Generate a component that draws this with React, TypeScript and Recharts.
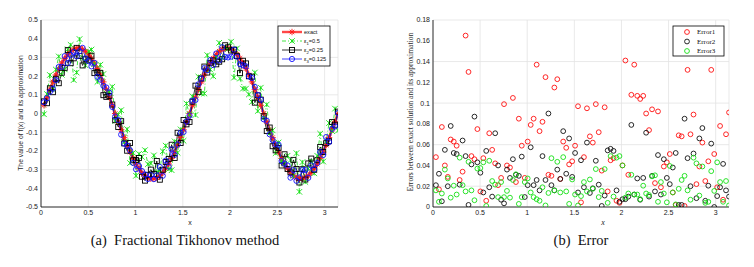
import React from "react";
import {
  LineChart,
  Line,
  ScatterChart,
  Scatter,
  XAxis,
  YAxis,
  CartesianGrid,
} from "recharts";

// shared grid of x points (both panels)
const xs = [
  0.031, 0.063, 0.094, 0.126, 0.157, 0.188, 0.22, 0.251, 0.283, 0.314,
  0.346, 0.377, 0.408, 0.44, 0.471, 0.503, 0.534, 0.565, 0.597, 0.628,
  0.66, 0.691, 0.723, 0.754, 0.785, 0.817, 0.848, 0.88, 0.911, 0.942,
  0.974, 1.005, 1.037, 1.068, 1.1, 1.131, 1.162, 1.194, 1.225, 1.257,
  1.288, 1.319, 1.351, 1.382, 1.414, 1.445, 1.477, 1.508, 1.539, 1.571,
  1.602, 1.634, 1.665, 1.696, 1.728, 1.759, 1.791, 1.822, 1.854, 1.885,
  1.916, 1.948, 1.979, 2.011, 2.042, 2.073, 2.105, 2.136, 2.168, 2.199,
  2.231, 2.262, 2.293, 2.325, 2.356, 2.388, 2.419, 2.45, 2.482, 2.513,
  2.545, 2.576, 2.608, 2.639, 2.67, 2.702, 2.733, 2.765, 2.796, 2.827,
  2.859, 2.89, 2.922, 2.953, 2.985, 3.016, 3.047, 3.079, 3.11, 3.142,
];

// (a) exact solution and the three approximations
const exact = [
  0.044, 0.087, 0.129, 0.169, 0.206, 0.24, 0.27, 0.295, 0.317, 0.333,
  0.344, 0.349, 0.349, 0.344, 0.333, 0.317, 0.295, 0.27, 0.24, 0.206,
  0.169, 0.129, 0.087, 0.044, 0.0, -0.044, -0.087, -0.129, -0.169, -0.206,
  -0.24, -0.27, -0.295, -0.317, -0.333, -0.344, -0.349, -0.349, -0.344, -0.333,
  -0.317, -0.295, -0.27, -0.24, -0.206, -0.169, -0.129, -0.087, -0.044, 0.0,
  0.044, 0.087, 0.129, 0.169, 0.206, 0.24, 0.27, 0.295, 0.317, 0.333,
  0.344, 0.349, 0.349, 0.344, 0.333, 0.317, 0.295, 0.27, 0.24, 0.206,
  0.169, 0.129, 0.087, 0.044, 0.0, -0.044, -0.087, -0.129, -0.169, -0.206,
  -0.24, -0.27, -0.295, -0.317, -0.333, -0.344, -0.349, -0.349, -0.344, -0.333,
  -0.317, -0.295, -0.27, -0.24, -0.206, -0.169, -0.129, -0.087, -0.044, 0.0,
];

const approx1 = [
  -0.004, 0.104, 0.206, 0.129, 0.235, 0.305, 0.207, 0.236, 0.343, 0.367,
  0.179, 0.219, 0.398, 0.298, 0.258, 0.332, 0.342, 0.264, 0.169, 0.261,
  0.211, 0.108, 0.115, 0.143, -0.04, -0.006, 0.018, -0.153, -0.084, -0.265,
  -0.211, -0.333, -0.216, -0.232, -0.196, -0.271, -0.267, -0.224, -0.313, -0.303,
  -0.202, -0.172, -0.297, -0.303, -0.149, -0.21, -0.085, -0.146, 0.053, -0.005,
  0.092, -0.008, 0.197, 0.107, 0.107, 0.312, 0.235, 0.199, 0.302, 0.378,
  0.297, 0.355, 0.345, 0.384, 0.192, 0.348, 0.187, 0.133, 0.133, 0.102,
  0.062, 0.219, 0.013, 0.138, -0.023, 0.048, -0.106, -0.09, -0.212, -0.155,
  -0.254, -0.268, -0.226, -0.249, -0.334, -0.212, -0.419, -0.26, -0.366, -0.294,
  -0.255, -0.32, -0.226, -0.108, -0.257, -0.15, -0.051, -0.094, 0.026, -0.091,
];

const approx2 = [
  0.065, 0.055, 0.135, 0.114, 0.186, 0.162, 0.218, 0.244, 0.339, 0.269,
  0.295, 0.351, 0.308, 0.257, 0.29, 0.284, 0.309, 0.216, 0.221, 0.216,
  0.098, 0.089, 0.094, 0.048, -0.036, -0.072, -0.041, -0.16, -0.199, -0.158,
  -0.25, -0.249, -0.238, -0.338, -0.359, -0.328, -0.3, -0.323, -0.254, -0.354,
  -0.301, -0.259, -0.243, -0.167, -0.238, -0.103, -0.158, -0.035, -0.058, -0.045,
  0.063, 0.149, 0.116, 0.187, 0.251, 0.219, 0.271, 0.284, 0.263, 0.277,
  0.29, 0.365, 0.354, 0.337, 0.341, 0.307, 0.216, 0.282, 0.268, 0.199,
  0.197, 0.058, 0.097, 0.074, -0.015, -0.094, -0.075, -0.175, -0.197, -0.184,
  -0.278, -0.218, -0.297, -0.315, -0.248, -0.297, -0.369, -0.298, -0.353, -0.267,
  -0.241, -0.301, -0.25, -0.179, -0.206, -0.159, -0.148, -0.046, -0.06, 0.01,
];

const approx3 = [
  0.06, 0.082, 0.116, 0.133, 0.179, 0.249, 0.25, 0.307, 0.27, 0.312,
  0.329, 0.306, 0.333, 0.351, 0.296, 0.28, 0.252, 0.271, 0.196, 0.181,
  0.148, 0.139, 0.111, 0.035, -0.016, -0.035, -0.113, -0.161, -0.172, -0.197,
  -0.264, -0.298, -0.281, -0.308, -0.326, -0.35, -0.33, -0.351, -0.331, -0.286,
  -0.333, -0.252, -0.284, -0.192, -0.221, -0.166, -0.103, -0.099, -0.043, -0.011,
  0.068, 0.072, 0.156, 0.187, 0.243, 0.231, 0.286, 0.259, 0.321, 0.284,
  0.354, 0.302, 0.3, 0.304, 0.342, 0.304, 0.264, 0.258, 0.252, 0.199,
  0.19, 0.142, 0.099, 0.074, -0.031, -0.039, -0.111, -0.142, -0.165, -0.167,
  -0.254, -0.268, -0.278, -0.343, -0.303, -0.36, -0.342, -0.302, -0.302, -0.344,
  -0.278, -0.299, -0.265, -0.206, -0.222, -0.126, -0.153, -0.082, -0.069, 0.002,
];

// (b) absolute errors
const error1 = [
  0.048, 0.017, 0.077, 0.04, 0.029, 0.065, 0.063, 0.059, 0.026, 0.034,
  0.165, 0.13, 0.049, 0.046, 0.075, 0.015, 0.047, 0.006, 0.071, 0.055,
  0.042, 0.021, 0.028, 0.099, 0.04, 0.038, 0.105, 0.024, 0.085, 0.059,
  0.028, 0.063, 0.079, 0.085, 0.137, 0.073, 0.082, 0.125, 0.031, 0.03,
  0.115, 0.123, 0.027, 0.063, 0.057, 0.041, 0.044, 0.059, 0.097, 0.0045,
  0.048, 0.095, 0.068, 0.062, 0.099, 0.072, 0.035, 0.096, 0.015, 0.045,
  0.047, 0.006, 0.004, 0.04, 0.141, 0.031, 0.108, 0.137, 0.107, 0.104,
  0.107, 0.09, 0.074, 0.094, 0.023, 0.092, 0.019, 0.039, 0.043, 0.051,
  0.014, 0.002, 0.069, 0.068, 0.001, 0.132, 0.07, 0.089, 0.022, 0.039,
  0.062, 0.025, 0.044, 0.132, 0.051, 0.019, 0.078, 0.007, 0.07, 0.091,
];

const error2 = [
  0.021, 0.032, 0.0055, 0.055, 0.02, 0.078, 0.052, 0.051, 0.0215, 0.064,
  0.049, 0.002, 0.041, 0.087, 0.043, 0.033, 0.014, 0.054, 0.019, 0.01,
  0.071, 0.04, 0.007, 0.0035, 0.036, 0.028, 0.046, 0.031, 0.03, 0.0485,
  0.0096, 0.021, 0.0575, 0.021, 0.026, 0.016, 0.049, 0.026, 0.09, 0.021,
  0.016, 0.036, 0.027, 0.073, 0.032, 0.066, 0.029, 0.052, 0.014, 0.045,
  0.019, 0.062, 0.0135, 0.018, 0.0445, 0.0215, 0.001, 0.011, 0.0545, 0.056,
  0.054, 0.016, 0.005, 0.0075, 0.0075, 0.01, 0.079, 0.012, 0.0275, 0.007,
  0.028, 0.0715, 0.01, 0.03, 0.015, 0.05, 0.012, 0.046, 0.028, 0.022,
  0.038, 0.052, 0.002, 0.002, 0.085, 0.047, 0.02, 0.0515, 0.0085, 0.066,
  0.076, 0.006, 0.0205, 0.061, 0.0, 0.0105, 0.019, 0.0415, 0.016, 0.01,
];

const error3 = [
  0.016, 0.005, 0.013, 0.036, 0.0275, 0.009, 0.0205, 0.012, 0.0475, 0.021,
  0.015, 0.0435, 0.016, 0.0065, 0.037, 0.0375, 0.043, 0.001, 0.0445, 0.025,
  0.0215, 0.0095, 0.024, 0.0095, 0.0155, 0.009, 0.026, 0.0315, 0.003, 0.0095,
  0.024, 0.0275, 0.014, 0.0095, 0.0075, 0.006, 0.019, 0.0015, 0.0135, 0.047,
  0.016, 0.0435, 0.014, 0.048, 0.015, 0.003, 0.0265, 0.012, 0.0015, 0.0105,
  0.024, 0.015, 0.0265, 0.0175, 0.0365, 0.0095, 0.0155, 0.0365, 0.004, 0.049,
  0.01, 0.0475, 0.049, 0.04, 0.009, 0.013, 0.031, 0.012, 0.012, 0.0075,
  0.0205, 0.013, 0.0115, 0.0295, 0.0305, 0.005, 0.024, 0.013, 0.0045, 0.0395,
  0.014, 0.0025, 0.0175, 0.026, 0.03, 0.016, 0.007, 0.0475, 0.042, 0.011,
  0.039, 0.004, 0.005, 0.0345, 0.0155, 0.043, 0.024, 0.005, 0.025, 0.0015,
];

const xTicks = [0, 0.5, 1, 1.5, 2, 2.5, 3];
const yTicksA = [-0.5, -0.4, -0.3, -0.2, -0.1, 0, 0.1, 0.2, 0.3, 0.4, 0.5];
const yTicksB = [0, 0.02, 0.04, 0.06, 0.08, 0.1, 0.12, 0.14, 0.16, 0.18];

const RED = "#ff1a1a";
const GREEN = "#14e014";
const BLUE = "#1010ff";

const rows = xs.map((x, i) => ({
  x,
  exact: exact[i],
  a1: approx1[i],
  a2: approx2[i],
  a3: approx3[i],
}));
const toPts = (arr: number[]) => xs.map((x, i) => ({ x, y: arr[i] }));

const tickSans = { fontSize: 7, fill: "#1a1a1a", fontFamily: "Liberation Sans" };

function Star({ cx, cy, color, r = 3.2 }: any) {
  const d = r * 0.7;
  return (
    <g stroke={color} strokeWidth={0.9}>
      <line x1={cx - r} y1={cy} x2={cx + r} y2={cy} />
      <line x1={cx} y1={cy - r} x2={cx} y2={cy + r} />
      <line x1={cx - d} y1={cy - d} x2={cx + d} y2={cy + d} />
      <line x1={cx - d} y1={cy + d} x2={cx + d} y2={cy - d} />
    </g>
  );
}

function Cross({ cx, cy, color, r = 2.8 }: any) {
  return (
    <g stroke={color} strokeWidth={0.9}>
      <line x1={cx - r} y1={cy - r} x2={cx + r} y2={cy + r} />
      <line x1={cx - r} y1={cy + r} x2={cx + r} y2={cy - r} />
      <line x1={cx} y1={cy - r * 0.7} x2={cx} y2={cy + r * 0.7} />
    </g>
  );
}

function Square({ cx, cy, color, r = 2.5 }: any) {
  return (
    <rect x={cx - r} y={cy - r} width={r * 2} height={r * 2} fill="none" stroke={color} strokeWidth={0.9} />
  );
}

function Ring({ cx, cy, color, r = 2.6 }: any) {
  return <circle cx={cx} cy={cy} r={r} fill="none" stroke={color} strokeWidth={0.9} />;
}

function Frame() {
  // top + right edges of the axes box
  return null;
}

function PanelA() {
  return (
    <LineChart
      width={345}
      height={230}
      data={rows}
      margin={{ top: 20, right: 7, left: 0, bottom: 3 }}
    >
      <CartesianGrid stroke="#e3e3e3" strokeWidth={0.8} />
      <XAxis
        dataKey="x"
        type="number"
        domain={[0, 3.1416]}
        ticks={xTicks}
        allowDataOverflow
        tick={tickSans}
        tickLine={false}
        tickSize={0}
        tickMargin={3}
        height={20}
        axisLine={{ stroke: "#000", strokeWidth: 0.8 }}
      />
      <XAxis
        xAxisId="top"
        orientation="top"
        type="number"
        domain={[0, 1]}
        tick={false}
        tickLine={false}
        height={0}
        axisLine={{ stroke: "#000", strokeWidth: 0.8 }}
      />
      <YAxis
        type="number"
        domain={[-0.5, 0.5]}
        ticks={yTicksA}
        allowDataOverflow
        tick={tickSans}
        tickLine={false}
        tickSize={0}
        tickMargin={3}
        width={41}
        axisLine={{ stroke: "#000", strokeWidth: 0.8 }}
      />
      <YAxis
        yAxisId="right"
        orientation="right"
        type="number"
        domain={[0, 1]}
        tick={false}
        tickLine={false}
        width={0}
        axisLine={{ stroke: "#000", strokeWidth: 0.8 }}
      />
      <Line
        dataKey="exact"
        stroke={RED}
        strokeWidth={2.6}
        strokeOpacity={0.8}
        isAnimationActive={false}
        dot={(p: any) => <Star key={`e${p.index}`} cx={p.cx} cy={p.cy} color={RED} />}
      />
      <Line
        dataKey="a1"
        stroke={GREEN}
        strokeWidth={0.8}
        strokeDasharray="4 2 1 2"
        isAnimationActive={false}
        dot={(p: any) => <Cross key={`g${p.index}`} cx={p.cx} cy={p.cy} color={GREEN} />}
      />
      <Line
        dataKey="a2"
        stroke="#000"
        strokeWidth={0.8}
        isAnimationActive={false}
        dot={(p: any) => <Square key={`k${p.index}`} cx={p.cx} cy={p.cy} color="#000" />}
      />
      <Line
        dataKey="a3"
        stroke={BLUE}
        strokeWidth={0.8}
        isAnimationActive={false}
        dot={(p: any) => <Ring key={`b${p.index}`} cx={p.cx} cy={p.cy} color={BLUE} />}
      />
    </LineChart>
  );
}

function PanelB() {
  const series = [
    { name: "Error1", data: toPts(error1), color: "#ff1010" },
    { name: "Error2", data: toPts(error2), color: "#111" },
    { name: "Error3", data: toPts(error3), color: GREEN },
  ];
  return (
    <ScatterChart width={360} height={230} margin={{ top: 20, right: 11, left: 0, bottom: 3 }}>
      <CartesianGrid stroke="#e3e3e3" strokeWidth={0.8} />
      <XAxis
        dataKey="x"
        type="number"
        domain={[0, 3.1416]}
        ticks={xTicks}
        allowDataOverflow
        tick={tickSans}
        tickLine={false}
        tickSize={0}
        tickMargin={3}
        height={20}
        axisLine={{ stroke: "#000", strokeWidth: 0.8 }}
      />
      <XAxis
        xAxisId="top"
        orientation="top"
        type="number"
        domain={[0, 1]}
        tick={false}
        tickLine={false}
        height={0}
        axisLine={{ stroke: "#000", strokeWidth: 0.8 }}
      />
      <YAxis
        dataKey="y"
        type="number"
        domain={[0, 0.18]}
        ticks={yTicksB}
        allowDataOverflow
        tick={tickSans}
        tickLine={false}
        tickSize={0}
        tickMargin={3}
        width={53}
        axisLine={{ stroke: "#000", strokeWidth: 0.8 }}
      />
      <YAxis
        yAxisId="right"
        orientation="right"
        type="number"
        domain={[0, 1]}
        tick={false}
        tickLine={false}
        width={0}
        axisLine={{ stroke: "#000", strokeWidth: 0.8 }}
      />
      {series.map((s) => (
        <Scatter
          key={s.name}
          name={s.name}
          data={s.data}
          isAnimationActive={false}
          shape={(p: any) => <Ring cx={p.cx} cy={p.cy} color={s.color} r={2.4} />}
        />
      ))}
    </ScatterChart>
  );
}

function Overlay() {
  const sans = "Liberation Sans";
  const serif = "Liberation Serif";
  const legA = [
    { y: 32, color: RED, label: "exact", kind: "star" },
    { y: 41, color: GREEN, label: "1", val: "=0.5", kind: "cross" },
    { y: 50, color: "#000", label: "2", val: "=0.25", kind: "square" },
    { y: 59, color: BLUE, label: "3", val: "=0.125", kind: "ring" },
  ];
  const legB = [
    { y: 32, color: "#ff1010", label: "Error1" },
    { y: 41.5, color: "#111", label: "Error2" },
    { y: 51, color: GREEN, label: "Error3" },
  ];
  return (
    <svg
      width={754}
      height={267}
      style={{ position: "absolute", left: 0, top: 0, pointerEvents: "none" }}
    >
      {/* axis labels */}
      <text x={190} y={225} fontSize={7} fontFamily={sans} textAnchor="middle" fill="#222">
        x
      </text>
      <text
        transform="translate(23,113) rotate(-90)"
        fontSize={6.8}
        fontFamily={sans}
        textAnchor="middle"
        fill="#2a2a2a"
      >
        The value of f(x) and its approximation
      </text>
      <text x={603} y={225} fontSize={8} fontFamily={serif} fontStyle="italic" textAnchor="middle" fill="#222">
        x
      </text>
      <text
        transform="translate(413,112) rotate(-90)"
        fontSize={7.6}
        fontFamily={serif}
        textAnchor="middle"
        fill="#2a2a2a"
      >
        Errors between exact solution and its approximation
      </text>

      {/* legend (a) */}
      <rect x={278} y={26} width={52} height={40} fill="#fff" stroke="#000" strokeWidth={0.8} />
      {legA.map((l) => (
        <g key={l.label}>
          <line
            x1={282}
            x2={302}
            y1={l.y}
            y2={l.y}
            stroke={l.color}
            strokeWidth={l.kind === "star" ? 2.4 : 0.8}
            strokeOpacity={l.kind === "star" ? 0.8 : 1}
            strokeDasharray={l.kind === "cross" ? "4 2 1 2" : undefined}
          />
          {l.kind === "star" && <Star cx={292} cy={l.y} color={l.color} />}
          {l.kind === "cross" && <Cross cx={292} cy={l.y} color={l.color} />}
          {l.kind === "square" && <Square cx={292} cy={l.y} color={l.color} />}
          {l.kind === "ring" && <Ring cx={292} cy={l.y} color={l.color} />}
          {l.kind === "star" ? (
            <text x={304} y={l.y + 2} fontSize={5.6} fontFamily={sans} fill="#111">
              exact
            </text>
          ) : (
            <text x={304} y={l.y + 2} fontSize={5.6} fontFamily={sans} fill="#111">
              ε
              <tspan fontSize={4.2} dy={1.5}>
                {l.label}
              </tspan>
              <tspan dy={-1.5}>{l.val}</tspan>
            </text>
          )}
        </g>
      ))}

      {/* legend (b) */}
      <rect x={673} y={26} width={51} height={30} fill="#fff" stroke="#000" strokeWidth={0.8} />
      {legB.map((l) => (
        <g key={l.label}>
          <Ring cx={687} cy={l.y} color={l.color} r={2.4} />
          <text x={697} y={l.y + 2.4} fontSize={7} fontFamily={serif} fill="#111">
            {l.label}
          </text>
        </g>
      ))}

      {/* captions */}
      <text x={185} y={245} fontSize={14.5} fontFamily={serif} textAnchor="middle" fill="#111" style={{ whiteSpace: "pre" }}>
        (a)  Fractional Tikhonov method
      </text>
      <text x={581} y={245} fontSize={14.5} fontFamily={serif} textAnchor="middle" fill="#111" style={{ whiteSpace: "pre" }}>
        (b)  Error
      </text>
    </svg>
  );
}

export default function App() {
  return (
    <div
      style={{
        position: "absolute",
        left: 0,
        top: 0,
        width: 754,
        height: 267,
        background: "#fff",
        overflow: "hidden",
      }}
    >
      <div style={{ position: "absolute", left: 0, top: 0 }}>
        <PanelA />
      </div>
      <div style={{ position: "absolute", left: 380, top: 0 }}>
        <PanelB />
      </div>
      <Overlay />
    </div>
  );
}
